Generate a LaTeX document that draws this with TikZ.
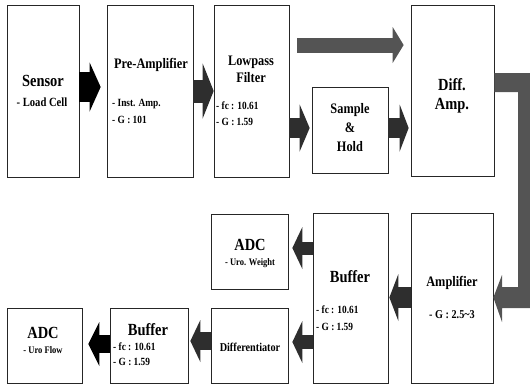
\documentclass[tikz,border=0pt]{standalone}
\usepackage{fontspec}
\usetikzlibrary{arrows.meta}
\newfontfamily\lbl{Liberation Serif}[FakeStretch=0.85]
\definecolor{halftone}{gray}{0.18}
\definecolor{halftonelight}{gray}{0.33}

\begin{document}
\begin{tikzpicture}[x=1pt, y=-1pt,
    block/.style={draw=black!85, line width=0.7pt, inner sep=0pt},
    big/.style={font=\lbl\bfseries\fontsize{17}{17}\selectfont, inner sep=0pt},
    mid/.style={font=\lbl\bfseries\fontsize{14.5}{14.5}\selectfont, inner sep=0pt},
    note/.style={font=\lbl\bfseries\fontsize{11}{11}\selectfont, inner sep=0pt},
    fat/.style n args={3}{line width=#1, -{Triangle[width=#2, length=#3, line width=0pt]}}]
    \useasboundingbox (0,0) rectangle (530,384);

    % top row
    \node[block, minimum width=72pt, minimum height=172pt] (sensor) at (43,91) {};
    \node[block, minimum width=86pt, minimum height=172pt] (preamp) at (150,91) {};
    \node[block, minimum width=75pt, minimum height=172pt] (lpf) at (251.5,91) {};
    \node[block, minimum width=76pt, minimum height=86pt] (sh) at (350,130) {};
    \node[block, minimum width=83pt, minimum height=171pt] (diff) at (452.5,90.5) {};

    % bottom rows
    \node[block, minimum width=82pt, minimum height=170pt] (amp) at (452,298) {};
    \node[block, minimum width=75pt, minimum height=170pt] (bufA) at (350.5,298) {};
    \node[block, minimum width=77pt, minimum height=75pt] (adcA) at (249.5,251.5) {};
    \node[block, minimum width=77pt, minimum height=75pt] (dif) at (249.5,345.5) {};
    \node[block, minimum width=78pt, minimum height=75pt] (bufB) at (149,345.5) {};
    \node[block, minimum width=75pt, minimum height=75pt] (adcB) at (44.5,345.5) {};

    % texts
    \node[big] (sensor-t) at (43,81) {Sensor};
    \node[note, font=\lbl\bfseries\fontsize{12.5}{12.5}\selectfont] (sensor-n) at (42,102) {- Load Cell};
    \node[mid] (preamp-t) at (151,65) {Pre-Amplifier};
    \node[note, anchor=west] (preamp-n1) at (112,104) {- Inst. Amp.};
    \node[note, anchor=west] (preamp-n2) at (112,120) {- G : 101};
    \node[mid] (lpf-t1) at (251,62) {Lowpass};
    \node[mid] (lpf-t2) at (251,78) {Filter};
    \node[note, anchor=west] (lpf-n1) at (216,106) {- fc : 10.61};
    \node[note, anchor=west] (lpf-n2) at (216,122) {- G : 1.59};
    \node[mid] (sh-t1) at (350,110) {Sample};
    \node[mid] (sh-t2) at (350,128) {\&};
    \node[mid] (sh-t3) at (350,147) {Hold};
    \node[big] (diff-t1) at (452,85) {Diff.};
    \node[big] (diff-t2) at (452,106) {Amp.};
    \node[mid] (amp-t) at (452,283) {Amplifier};
    \node[note, font=\lbl\bfseries\fontsize{12}{12}\selectfont] (amp-n) at (452,315) {- G : 2.5\textasciitilde3};
    \node[big] (bufA-t) at (350,277) {Buffer};
    \node[note, anchor=west] (bufA-n1) at (316,310) {- fc : 10.61};
    \node[note, anchor=west] (bufA-n2) at (316,327) {- G : 1.59};
    \node[big] (adcA-t) at (250,245) {ADC};
    \node[note, font=\lbl\bfseries\fontsize{10}{10}\selectfont] (adcA-n) at (250,263) {- Uro. Weight};
    \node[note, font=\lbl\bfseries\fontsize{12}{12}\selectfont] (dif-t) at (250,347) {Differentiator};
    \node[big] (bufB-t) at (148,330) {Buffer};
    \node[note, anchor=west] (bufB-n1) at (113,347) {- fc : 10.61};
    \node[note, anchor=west] (bufB-n2) at (113,362) {- G : 1.59};
    \node[big] (adcB-t) at (43,333) {ADC};
    \node[note, font=\lbl\bfseries\fontsize{10}{10}\selectfont] (adcB-n) at (43,350) {- Uro Flow};

    % fat arrows
    \draw[fat={30pt}{49pt}{11pt}, black, shorten >=6pt] (sensor.east |- 0,87) -- (preamp.west |- 0,87);
    \draw[fat={23pt}{55pt}{11pt}, halftone] (preamp.east |- 0,91) -- (lpf.west |- 0,91);
    \draw[fat={15pt}{36pt}{11pt}, halftonelight, shorten <=8pt, shorten >=7pt] (lpf.east |- 0,45) -- (diff.west |- 0,45);
    \draw[fat={20pt}{47pt}{10pt}, halftone, shorten >=2pt] (lpf.east |- 0,128) -- (sh.west |- 0,128);
    \draw[fat={20pt}{47pt}{9pt}, halftone, shorten >=2pt] (sh.east |- 0,128) -- (diff.west |- 0,128);
    \fill[halftonelight] (diff.east |- 0,73) -- (530,73) -- (530,308) -- (502,308) -- (502,322)
        -- (amp.east |- 0,297.5) -- (502,275) -- (502,287) -- (518,287) -- (518,92) -- (diff.east |- 0,92) -- cycle;
    \draw[fat={21pt}{47pt}{9pt}, halftone, shorten >=1pt] (amp.west |- 0,297.5) -- (bufA.east |- 0,297.5);
    \draw[fat={13pt}{42pt}{10pt}, halftone, shorten >=4pt] (bufA.west |- 0,248) -- (adcA.east |- 0,248);
    \draw[fat={14pt}{42pt}{10pt}, halftone, shorten >=4pt] (bufA.west |- 0,342) -- (dif.east |- 0,342);
    \draw[fat={18pt}{42pt}{10pt}, halftone, shorten >=2pt] (dif.west |- 0,341) -- (bufB.east |- 0,341);
    \draw[fat={18pt}{44pt}{11pt}, black, shorten >=6pt] (bufB.west |- 0,344) -- (adcB.east |- 0,344);
\end{tikzpicture}
\end{document}
